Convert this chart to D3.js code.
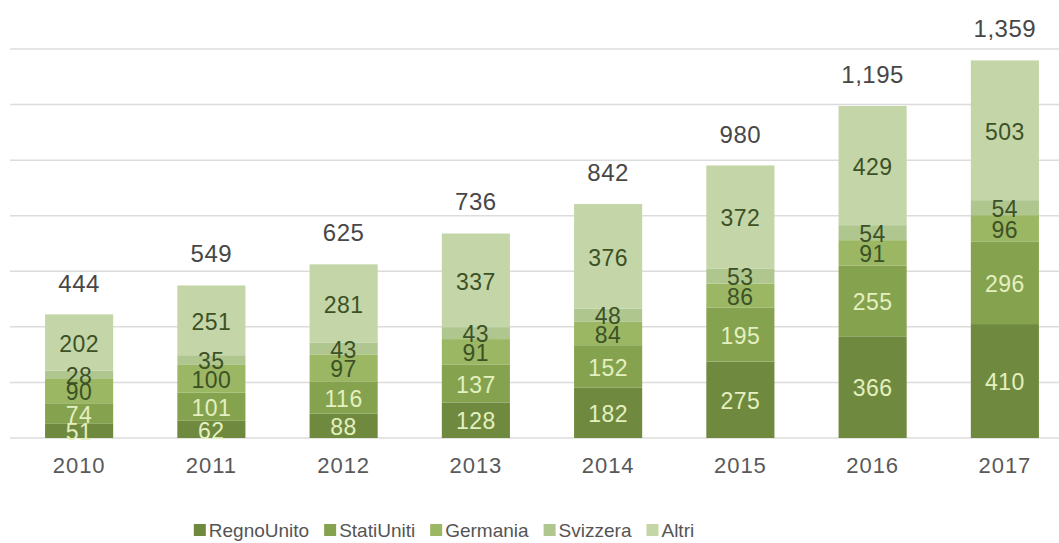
<!DOCTYPE html>
<html><head><meta charset="utf-8">
<script src="https://cdn.jsdelivr.net/npm/d3@7"></script>
<style>body{margin:0;background:#fff}svg{display:block}</style>
</head><body>
<svg id="c" width="1059" height="543"></svg>
<script>
const years = ["2010","2011","2012","2013","2014","2015","2016","2017"];
const seriesNames = ["RegnoUnito","StatiUniti","Germania","Svizzera","Altri"];
const regnoUnito = [51,62,88,128,182,275,366,410];
const statiUniti = [74,101,116,137,152,195,255,296];
const germania = [90,100,97,91,84,86,91,96];
const svizzera = [28,35,43,43,48,53,54,54];
const altri = [202,251,281,337,376,372,429,503];
const totals = [444,549,625,736,842,980,1195,1359];
const yTicks = [0,200,400,600,800,1000,1200,1400];

const colors = ["#6f8a3f","#85a24e","#9bb763","#afc68f","#c4d6a7"];
const labelColors = ["#e4f0c0","#e4f0c0","#3c5126","#3c5126","#3c5126"];
const font = "'Liberation Sans', Arial, sans-serif";

const svg = d3.select("#c");
const x = d3.scaleBand().domain(years).range([13,1071]).paddingInner(0.485).paddingOuter(0.2425);
const y = d3.scaleLinear().domain([0,1400]).range([438,49]);

svg.append("g").selectAll("line").data(yTicks).join("line")
  .attr("x1",10).attr("x2",1059)
  .attr("y1",d=>y(d)).attr("y2",d=>y(d))
  .attr("stroke","#dcdcdc").attr("stroke-width",1.5);

const rows = years.map((yr,i)=>({year:yr,RegnoUnito:regnoUnito[i],StatiUniti:statiUniti[i],Germania:germania[i],Svizzera:svizzera[i],Altri:altri[i]}));
const stacked = d3.stack().keys(seriesNames)(rows);

const g = svg.append("g");
stacked.forEach((s,si)=>{
  g.append("g").selectAll("rect").data(s).join("rect")
    .attr("x",d=>x(d.data.year)).attr("width",x.bandwidth())
    .attr("y",d=>y(d[1])).attr("height",d=>y(d[0])-y(d[1]))
    .attr("fill",colors[si]);
});
stacked.forEach((s,si)=>{
  g.append("g").selectAll("text").data(s).join("text")
    .attr("x",d=>x(d.data.year)+x.bandwidth()/2)
    .attr("y",d=>(y(d[0])+y(d[1]))/2+1)
    .attr("dy","0.36em")
    .attr("text-anchor","middle")
    .attr("font-family",font).attr("font-size",23).attr("letter-spacing","0.5px")
    .attr("fill",labelColors[si])
    .text(d=>d[1]-d[0]);
});

svg.append("g").selectAll("text").data(years).join("text")
  .attr("x",(d)=>x(d)+x.bandwidth()/2)
  .attr("y",(d,i)=>y(totals[i])-23)
  .attr("text-anchor","middle")
  .attr("font-family",font).attr("font-size",24).attr("letter-spacing","0.5px").attr("fill","#474747")
  .text((d,i)=>d3.format(",")(totals[i]));

const xAxis = svg.append("g").attr("transform","translate(0,438)")
  .call(d3.axisBottom(x).tickSize(0).tickPadding(19));
xAxis.select(".domain").remove();
xAxis.selectAll("text").attr("font-family",font).attr("font-size",22).attr("letter-spacing","1px").attr("fill","#595959");

// legend
const leg = svg.append("g");
let lx = 0;
seriesNames.forEach((n,i)=>{
  const it = leg.append("g").attr("transform",`translate(${lx},0)`);
  it.append("rect").attr("x",0).attr("y",-6).attr("width",12).attr("height",12).attr("fill",colors[i]);
  const t = it.append("text").attr("x",15).attr("y",0).attr("dy","0.35em")
    .attr("font-family",font).attr("font-size",19).attr("fill","#555").text(n);
  const w = t.node().getComputedTextLength();
  lx += 15 + w + 15;
});
const totalW = lx - 15;
leg.attr("transform",`translate(${444-totalW/2},530)`);
</script>
</body></html>
